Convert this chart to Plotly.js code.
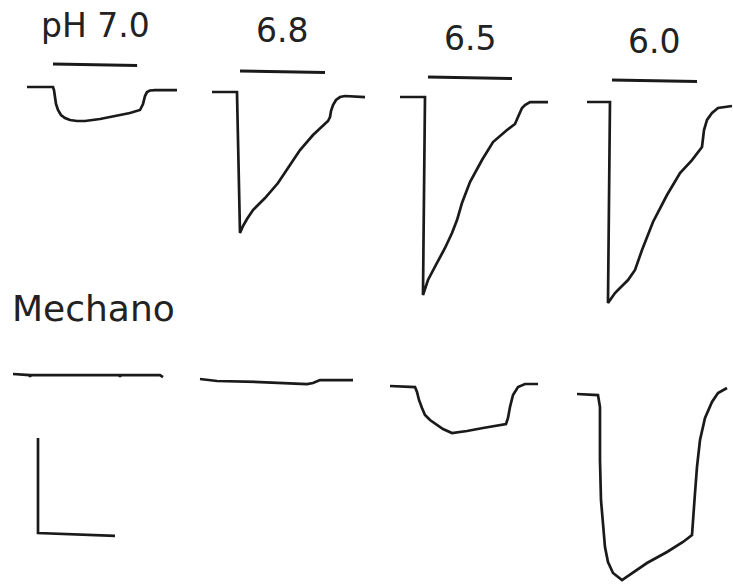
<!DOCTYPE html>
<html><head><meta charset="utf-8">
<script src="https://cdn.plot.ly/plotly-3.0.1.min.js"></script>
<style>html,body{margin:0;padding:0;background:#fff}#chart{width:733px;height:585px}</style>
</head><body><div id="chart"></div>
<script>
// ---- data: time (s) from start of each sweep, current (nA) relative to baseline ----
const phLabels = ["pH 7.0", "6.8", "6.5", "6.0"];
const rowLabel = "Mechano";

// acid-evoked currents (top row)
const acid70_t = [0, 0.675, 0.701, 0.727, 0.753, 0.805, 0.883, 0.987, 1.117, 1.299, 1.506, 1.896, 2.286, 2.675, 2.935, 3.013, 3.065, 3.117, 3.195, 3.325, 3.896];
const acid70_i = [0, 0, -0.032, -0.105, -0.179, -0.242, -0.295, -0.326, -0.347, -0.358, -0.358, -0.337, -0.305, -0.274, -0.242, -0.179, -0.095, -0.053, -0.037, -0.032, -0.032];
const acid68_t = [0, 0.649, 0.727, 0.805, 0.909, 1.065, 1.377, 1.714, 2.026, 2.286, 2.623, 2.935, 3.013, 3.065, 3.091, 3.143, 3.221, 3.325, 3.455, 3.974];
const acid68_i = [0, 0, -1.484, -1.411, -1.337, -1.242, -1.116, -0.958, -0.768, -0.611, -0.453, -0.337, -0.305, -0.263, -0.200, -0.137, -0.084, -0.053, -0.042, -0.053];
const acid65_t = [0, 0.649, 0.597, 0.727, 0.961, 1.169, 1.351, 1.481, 1.610, 1.818, 2.130, 2.416, 2.779, 2.987, 3.065, 3.117, 3.169, 3.247, 3.377, 3.844];
const acid65_i = [0, 0, -2.084, -1.926, -1.747, -1.589, -1.432, -1.295, -1.116, -0.895, -0.663, -0.474, -0.347, -0.284, -0.211, -0.158, -0.116, -0.084, -0.053, -0.053];
const acid60_t = [0, 0.597, 0.545, 0.727, 0.857, 1.065, 1.247, 1.429, 1.714, 2.078, 2.416, 2.727, 2.987, 3.013, 3.039, 3.117, 3.247, 3.403, 3.766];
const acid60_i = [0, 0, -2.116, -2.011, -1.958, -1.874, -1.768, -1.558, -1.263, -0.979, -0.747, -0.611, -0.474, -0.400, -0.295, -0.189, -0.116, -0.063, -0.042];

// mechanically evoked currents (bottom row)
const mech70_t = [0, 0.430, 0.442, 0.455, 2.766, 2.779, 2.792, 3.818, 3.896];
const mech70_i = [0, -0.011, -0.032, -0.011, -0.011, -0.032, -0.011, -0.011, -0.032];
const mech68_t = [0, 0.442, 1.558, 2.779, 2.935, 3.117, 3.974];
const mech68_i = [0, -0.021, -0.032, -0.053, -0.042, -0.011, -0.011];
const mech65_t = [0, 0.649, 0.701, 0.753, 0.831, 0.909, 1.039, 1.221, 1.377, 1.610, 2.000, 2.416, 2.727, 3.013, 3.065, 3.117, 3.195, 3.325, 3.506, 3.844];
const mech65_i = [0, -0.011, -0.063, -0.147, -0.232, -0.305, -0.358, -0.411, -0.453, -0.495, -0.474, -0.442, -0.421, -0.400, -0.337, -0.221, -0.095, -0.011, 0.021, 0.021];
const mech60_t = [0, 0.545, 0.597, 0.597, 0.623, 0.675, 0.727, 0.805, 0.935, 1.169, 1.429, 1.818, 2.338, 2.753, 2.987, 3.013, 3.065, 3.117, 3.195, 3.325, 3.506, 3.662, 3.896];
const mech60_i = [0, -0.011, -0.137, -0.695, -1.116, -1.400, -1.611, -1.768, -1.884, -1.958, -1.884, -1.779, -1.663, -1.558, -1.484, -1.295, -1.042, -0.768, -0.484, -0.253, -0.084, 0.011, 0.063];

// acid application bars (s)
const pulseStart = [0.675, 0.727, 0.727, 0.649];
const pulseEnd = [2.86, 2.935, 2.909, 2.857];

// scale bar: 2 s, 1 nA
const scaleT = [0, 0, 2];
const scaleI = [1, 0, -0.03];

// ---- layout ----
const W = 733, H = 585, PX_PER_S = 38.5, PX_PER_NA = 95;
const INK = "#1a1a1a";
const series = [
  [acid70_t, acid70_i], [acid68_t, acid68_i], [acid65_t, acid65_i], [acid60_t, acid60_i],
  [mech70_t, mech70_i], [mech68_t, mech68_i], [mech65_t, mech65_i], [mech60_t, mech60_i],
  [scaleT, scaleI]
];
// sweep origin (left end of baseline) in page pixels
const origins = [[27,87],[212,92],[400,97],[587,102],[13,374],[200,379],[390,386],[577,394],[38,533]];
const pulseY = [64, 71, 77, 80];
const labelY = [26, 30.5, 38.5, 41.5];

const data = [];
const layout = {
  width: W, height: H, margin: {l:0, r:0, t:0, b:0},
  paper_bgcolor: "#fff", plot_bgcolor: "rgba(0,0,0,0)",
  showlegend: false, hovermode: false, shapes: [], annotations: []
};
series.forEach((s, k) => {
  const n = k + 1, sx = n === 1 ? "" : String(n);
  const [x0, y0] = origins[k];
  data.push({
    type: "scatter", mode: "lines", x: s[0], y: s[1],
    xaxis: "x" + sx, yaxis: "y" + sx,
    line: {color: INK, width: 2.7, shape: "linear"},
    hoverinfo: "skip"
  });
  layout["xaxis" + sx] = {domain: [0,1], range: [-x0 / PX_PER_S, (W - x0) / PX_PER_S], visible: false, fixedrange: true, anchor: "y" + sx};
  layout["yaxis" + sx] = {domain: [0,1], range: [-(H - y0) / PX_PER_NA, y0 / PX_PER_NA], visible: false, fixedrange: true, anchor: "x" + sx};
});
// pulse bars + pH labels on the top-row axes
for (let k = 0; k < 4; k++) {
  const sx = k === 0 ? "" : String(k + 1);
  layout.shapes.push({type: "line", xref: "x" + sx, yref: "paper",
    x0: pulseStart[k], x1: pulseEnd[k], y0: 1 - pulseY[k] / H, y1: 1 - (pulseY[k] + 1.5) / H,
    line: {color: INK, width: 3}});
  layout.annotations.push({xref: "x" + sx, yref: "paper",
    x: (pulseStart[k] + pulseEnd[k]) / 2, y: 1 - labelY[k] / H,
    xanchor: "center", yanchor: "middle", showarrow: false, text: phLabels[k],
    font: {family: "DejaVu Sans", size: 33, color: "#222"}});
}
layout.annotations.push({xref: "paper", yref: "paper", x: 10 / W, y: 1 - 308 / H,
  xanchor: "left", yanchor: "middle", showarrow: false, text: rowLabel,
  font: {family: "DejaVu Sans", size: 36, color: "#222"}});

Plotly.newPlot("chart", data, layout, {displayModeBar: false, staticPlot: true});
</script></body></html>
